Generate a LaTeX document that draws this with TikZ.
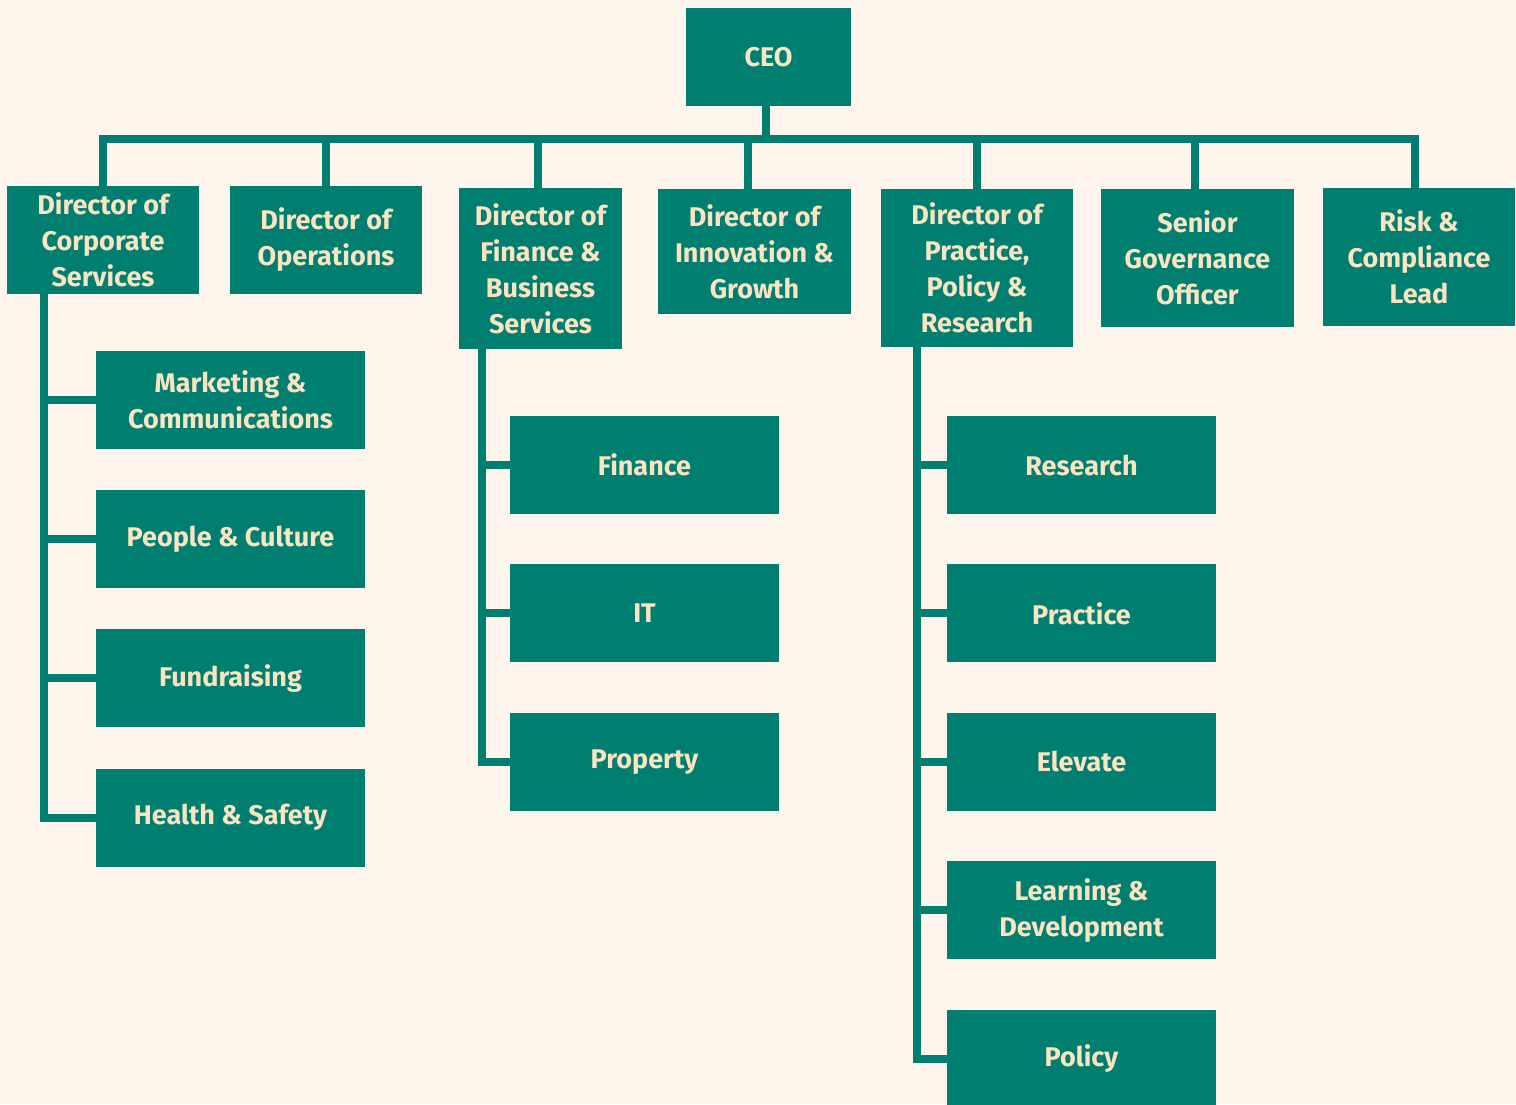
\documentclass[tikz,border=0pt]{standalone}
\usepackage{fontspec}
\setmainfont{Fira Sans}
\usepackage{xcolor}
\usepackage{tikz}
\usetikzlibrary{positioning,calc}

\definecolor{orgteal}{RGB}{0,126,112}
\definecolor{orgcream}{RGB}{251,228,194}
\definecolor{orgbg}{RGB}{254,245,236}

\begin{document}
\begin{tikzpicture}[x=1pt,y=-1pt,
		box/.style={fill=orgteal, text=orgcream, inner sep=0pt, align=center,
			font=\fontsize{27}{36}\selectfont\bfseries},
		dir/.style={box, minimum width=192pt, minimum height=108pt},
		sub/.style={box, minimum width=269pt, minimum height=98pt},
		link/.style={draw=orgteal, line width=8pt, line cap=rect, line join=miter}]
		\fill[orgbg] (0,0) rectangle (1516,1104);
		\useasboundingbox (0,0) rectangle (1516,1104);

		\node[box, minimum width=165pt, minimum height=98pt] (ceo) at (768.5,57) {CEO};
		\node[dir] (corp) at (103,240) {Director of\\Corporate\\Services};
		\node[dir] (ops) at (326,240) {Director of\\Operations};
		\node[dir, minimum width=163pt, minimum height=161pt] (fin) at (540.5,268.5) {Director of\\Finance \&\\Business\\Services};
		\node[dir, minimum width=193pt, minimum height=125pt] (inno) at (754.5,251.5) {Director of\\Innovation \&\\Growth};
		\node[dir, minimum height=158pt] (prac) at (977,268) {Director of\\Practice,\\Policy \&\\Research};
		\node[dir, minimum width=193pt, minimum height=138pt] (sgo) at (1197.5,258) {Senior\\Governance\\Officer};
		\node[dir, minimum height=138pt] (risk) at (1419,257) {Risk \&\\Compliance\\Lead};

		\node[sub] (mkt) at (230.5,399.5) {Marketing \&\\Communications};
		\node[sub, below=41pt of mkt] (people) {People \& Culture};
		\node[sub, below=41pt of people] (fund) {Fundraising};
		\node[sub, below=41pt of fund] (health) {Health \& Safety};

		\node[sub] (finance) at (644.5,465) {Finance};
		\node[sub, below=50pt of finance] (it) {IT};
		\node[sub, below=50pt of it] (property) {Property};

		\node[sub] (research) at (1081.5,465) {Research};
		\node[sub, below=50pt of research] (practice) {Practice};
		\node[sub, below=50pt of practice] (elevate) {Elevate};
		\node[sub, below=50pt of elevate] (learning) {Learning \&\\Development};
		\node[sub, below=50pt of learning] (policy) {Policy};

		\coordinate (bus) at ([xshift=-3pt, yshift=-33pt]ceo.south);
		\coordinate (corpspine) at ([xshift=37pt]corp.south west);
		\coordinate (finspine) at ([xshift=23pt]fin.south west);
		\coordinate (pracspine) at ([xshift=36pt]prac.south west);

		\draw[link] ([xshift=-3pt]ceo.south) -- (bus);
		\draw[link] (corp.north |- bus) -- ([xshift=-4pt]risk.north |- bus);
		\foreach \d/\s in {corp/0,ops/0,fin/-3,inno/-7,prac/0,sgo/-3,risk/-4}
			\draw[link] ([xshift=\s pt]\d.north) -- ([xshift=\s pt]\d.north |- bus);

		\foreach \c in {mkt,people,fund,health}
			\draw[link] (corpspine) |- (\c.west);
		\foreach \c in {finance,it,property}
			\draw[link] (finspine) |- (\c.west);
		\foreach \c in {research,practice,elevate,learning,policy}
			\draw[link] (pracspine) |- (\c.west);
\end{tikzpicture}
\end{document}
